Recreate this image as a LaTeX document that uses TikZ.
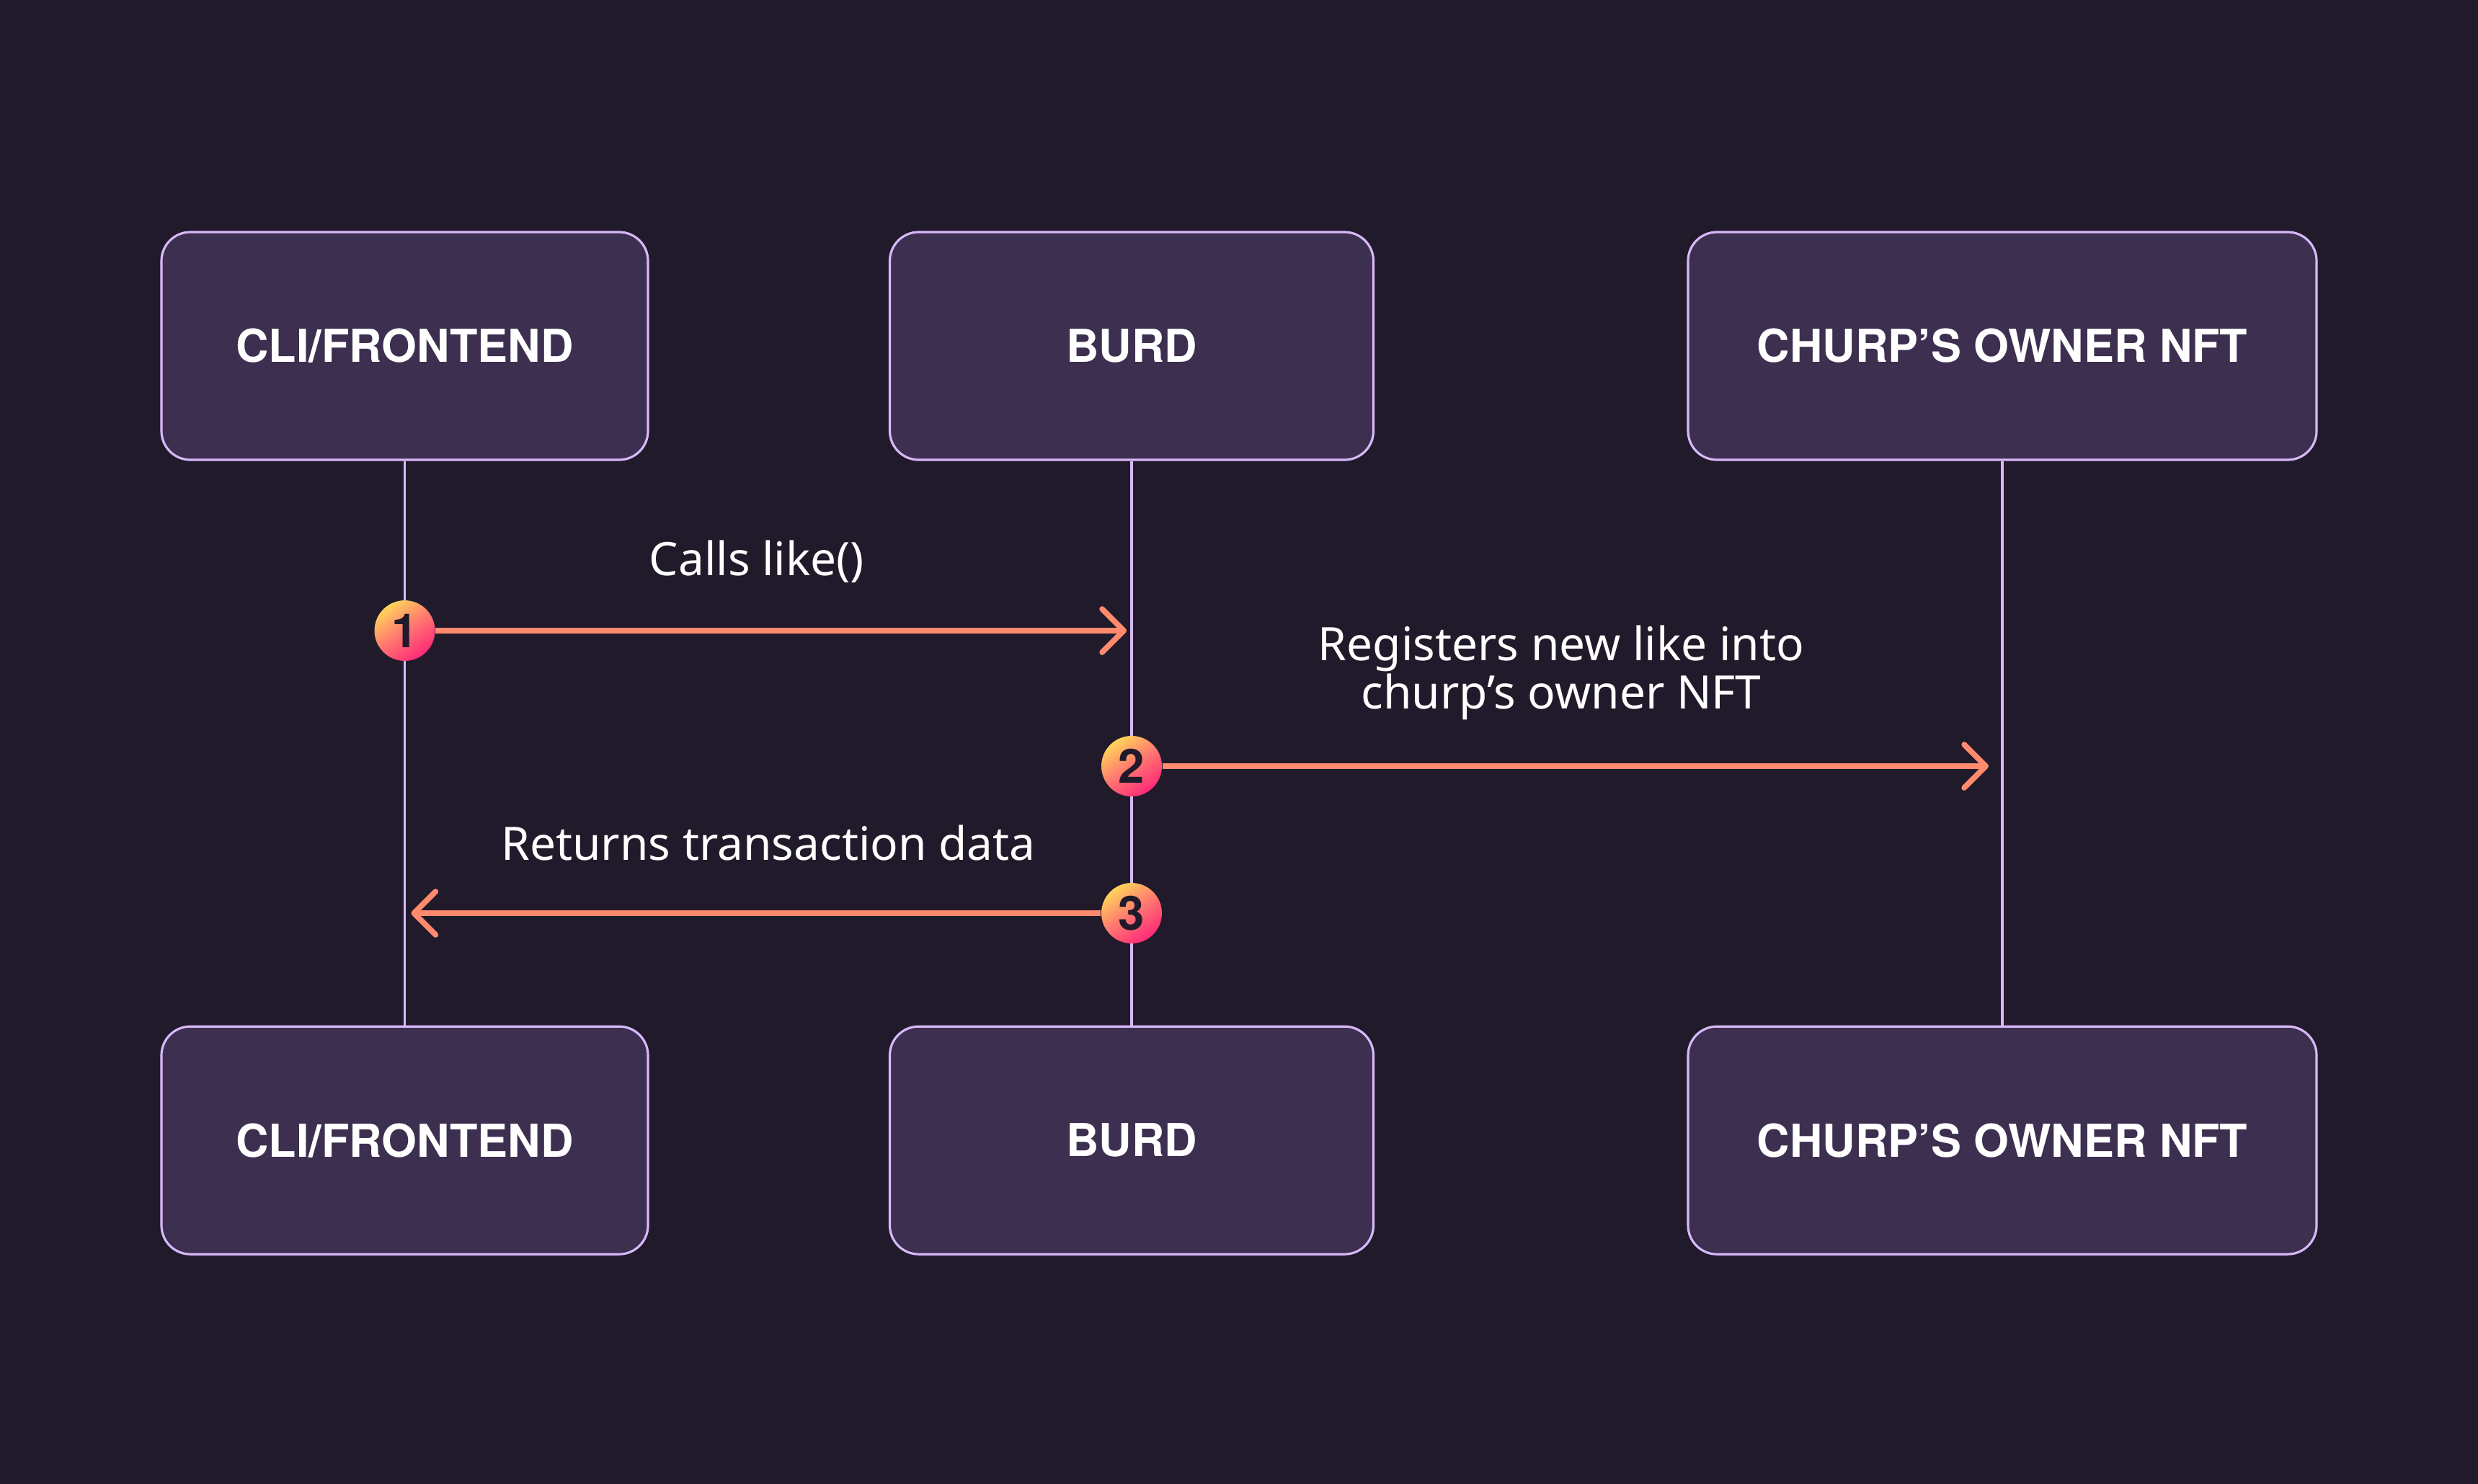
\documentclass[tikz,border=0pt]{standalone}
\usepackage{fontspec}
\setmainfont{Noto Sans}
\newfontfamily\titlefont{TeX Gyre Heros}
\usetikzlibrary{arrows.meta, positioning, calc}
\definecolor{hintergrund}{RGB}{33,26,43}
\definecolor{kasten}{RGB}{61,47,80}
\definecolor{rahmen}{RGB}{215,185,249}
\definecolor{pfeil}{RGB}{255,138,110}
\definecolor{gelb}{RGB}{255,212,90}
\definecolor{pink}{RGB}{255,42,120}

\begin{document}
\begin{tikzpicture}[
    actor/.style={draw=rahmen, line width=0.9pt, fill=kasten, rounded corners=0.4cm,
        minimum height=3.16cm, text=white, font=\titlefont\fontsize{17.9}{22}\selectfont\bfseries},
    lifeline/.style={rahmen, line width=1.1pt},
    msg/.style={pfeil, line width=2.2pt, -{Straight Barb[length=0.3cm, width=0.6cm, round]}},
    msgtext/.style={text=white, font=\fontsize{18.2}{19}\selectfont},
    badge/.style={circle, minimum size=0.84cm, inner sep=0pt, top color=gelb, bottom color=pink,
        middle color=pfeil!80!pink, shading angle=35, text=hintergrund,
        font=\titlefont\fontsize{18.6}{22}\selectfont\bfseries}
]

    \useasboundingbox (0,0) rectangle (34.38,-20.58);
    \fill[hintergrund] (-0.2,0.2) rectangle (34.58,-20.78);

    % participants
    \node[actor, minimum width=6.75cm] (cli) at (5.615,-4.80) {CLI/FRONTEND};
    \node[actor, minimum width=6.71cm] (burd) at (15.70,-4.80) {BURD};
    \node[actor, minimum width=8.72cm] (nft) at (27.78,-4.80) {CHURP’S OWNER NFT};

    \node[actor, minimum width=6.75cm, below=7.83cm of cli] (cli2) {CLI/FRONTEND};
    \node[actor, minimum width=6.71cm, below=7.83cm of burd] (burd2) {BURD};
    \node[actor, minimum width=8.72cm, below=7.83cm of nft] (nft2) {CHURP’S OWNER NFT};

    \foreach \a in {cli,burd,nft}
        \draw[lifeline] (\a.south) -- (\a2.north);

    % messages
    \node[badge] (s1) at (cli.south |- 0,-8.75) {1};
    \node[badge] (s2) at (burd.south |- 0,-10.63) {2};
    \node[badge] (s3) at (burd.south |- 0,-12.67) {3};

    \coordinate (e1) at ($(burd.south |- s1) + (-0.07,0)$);
    \coordinate (e2) at ($(nft.south |- s2) + (-0.19,0)$);
    \coordinate (e3) at ($(cli.south |- s3) + (0.09,0)$);

    \draw[msg] (s1) -- (e1);
    \draw[msg] (s2) -- (e2);
    \draw[msg] (s3) -- (e3);

    \node[msgtext, anchor=base] (t1) at (10.50,-7.98) {Calls like()};
    \node[msgtext, align=center] (t2) at (21.66,-9.33) {Registers new like into\\churp’s owner NFT};
    \node[msgtext, anchor=base] (t3) at (10.66,-11.93) {Returns transaction data};

\end{tikzpicture}
\end{document}
